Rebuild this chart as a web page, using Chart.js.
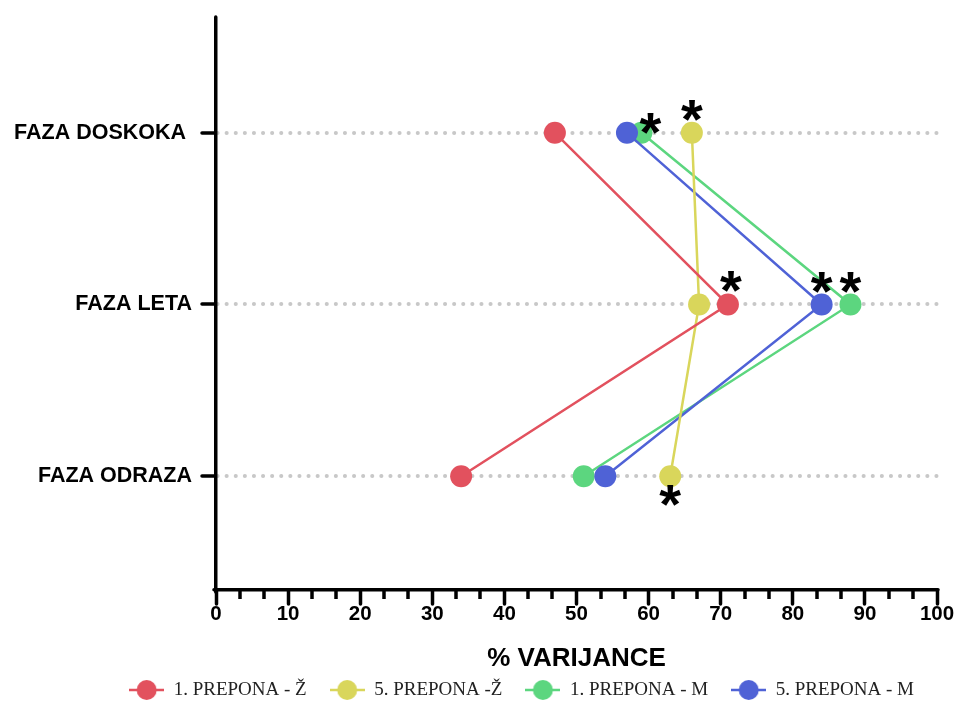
<!DOCTYPE html>
<html>
<head>
<meta charset="utf-8">
<script src="https://cdn.jsdelivr.net/npm/chart.js@4.4.1/dist/chart.umd.min.js"></script>
<style>
  html, body { margin: 0; padding: 0; background: #fff; }
</style>
</head>
<body>
<canvas id="chart" width="957" height="702"></canvas>
<script>
// phases, bottom to top on the y axis
const phases = ["FAZA ODRAZA", "FAZA LETA", "FAZA DOSKOKA "];
const seriesNames = ["1. PREPONA - Ž", "5. PREPONA -Ž", "1. PREPONA - M", "5. PREPONA - M"];
// % variance per phase (ODRAZA, LETA, DOSKOKA)
const prepona1Z = [34, 71, 47];
const prepona5Z = [63, 67, 66];
const prepona1M = [51, 88, 59];
const prepona5M = [54, 84, 57];
const xTickValues = [0, 10, 20, 30, 40, 50, 60, 70, 80, 90, 100];
// significant points: [series, phase, where the star goes]
const stars = [
    [2, 2, "right"],
    [1, 2, "above"],
    [0, 1, "aboveRight"],
    [3, 1, "above"],
    [2, 1, "above"],
    [1, 0, "below"],
];

const colors = ["#E2515E", "#D9D65B", "#5CD67F", "#4F62D6"];
const allSeries = [prepona1Z, prepona5Z, prepona1M, prepona5M];
const drawOrder = [0, 1, 3, 2]; // blue sits above green

const legendIcon = (color) => {
    const c = document.createElement("canvas");
    c.width = 35;
    c.height = 22;
    const g = c.getContext("2d");
    g.strokeStyle = color;
    g.lineWidth = 2.5;
    g.beginPath();
    g.moveTo(0, 11);
    g.lineTo(35, 11);
    g.stroke();
    g.fillStyle = color;
    g.beginPath();
    g.arc(17.5, 11, 10, 0, Math.PI * 2);
    g.fill();
    return c;
};

const starOffsets = { right: [9, -7], above: [0, -20], aboveRight: [3, -21], below: [0, 22] };
const STAR_SIZE = 56;

const extrasPlugin = {
    id: "extras",
    beforeDraw(chart) {
        chart.ctx.lineCap = "round";
    },
    afterDatasetsDraw(chart) {
        const ctx = chart.ctx;
        ctx.save();
        ctx.font = `bold ${STAR_SIZE}px "Liberation Sans"`;
        ctx.fillStyle = "#000";
        ctx.textAlign = "center";
        ctx.textBaseline = "alphabetic";
        stars.forEach(([s, p, where]) => {
            const pt = chart.getDatasetMeta(s).data[p];
            const [dx, dy] = starOffsets[where];
            ctx.fillText("*", pt.x + dx, pt.y + dy + STAR_SIZE * 0.45);
        });
        ctx.restore();
    },
    afterDraw(chart) {
        // minor ticks on the x axis, two between each labelled tick
        const ctx = chart.ctx;
        const xs = chart.scales.x;
        const bottom = chart.chartArea.bottom;
        ctx.save();
        ctx.strokeStyle = "#000";
        ctx.lineWidth = 3.5;
        ctx.lineCap = "butt";
        for (let i = 0; i < xTickValues.length - 1; i++) {
            const step = (xTickValues[i + 1] - xTickValues[i]) / 3;
            for (let k = 1; k < 3; k++) {
                const px = Math.round(xs.getPixelForValue(xTickValues[i] + k * step));
                ctx.beginPath();
                ctx.moveTo(px, bottom);
                ctx.lineTo(px, bottom + 9);
                ctx.stroke();
            }
        }
        ctx.restore();
    },
};

new Chart(document.getElementById("chart"), {
    type: "scatter",
    data: {
        datasets: allSeries.map((vals, i) => ({
            label: seriesNames[i],
            data: vals.map((v, p) => ({ x: v, y: p + 1 })),
            showLine: true,
            borderColor: colors[i],
            backgroundColor: colors[i],
            pointBackgroundColor: colors[i],
            borderWidth: 2.5,
            pointRadius: 11,
            pointHoverRadius: 11,
            pointBorderWidth: 0,
            order: drawOrder[i],
        })),
    },
    options: {
        responsive: false,
        animation: false,
        devicePixelRatio: 1,
        layout: { padding: { top: 19, right: 20, bottom: -7.5, left: 0 } },
        plugins: {
            tooltip: { enabled: false },
            legend: {
                position: "bottom",
                align: "end",
                labels: {
                    usePointStyle: true,
                    pointStyleWidth: 35,
                    padding: 23,
                    color: "#222",
                    font: { family: '"Liberation Serif"', size: 19 },
                    generateLabels: (chart) =>
                        chart.data.datasets.map((ds, i) => ({
                            text: ds.label,
                            pointStyle: legendIcon(ds.borderColor),
                            fillStyle: ds.backgroundColor,
                            strokeStyle: ds.borderColor,
                            lineWidth: 0,
                            hidden: false,
                            datasetIndex: i,
                            fontColor: "#222",
                        })),
                },
            },
        },
        scales: {
            x: {
                type: "linear",
                position: "bottom",
                min: 0,
                max: 100,
                afterBuildTicks: (s) => {
                    s.ticks = xTickValues.map((v) => ({ value: v }));
                },
                afterFit: (s) => {
                    s.height = 67.5;
                },
                ticks: {
                    color: "#000",
                    padding: -2,
                    font: { family: '"Liberation Sans"', size: 20.5, weight: "bold" },
                },
                grid: {
                    drawOnChartArea: false,
                    drawTicks: true,
                    tickLength: 14,
                    tickWidth: 3.5,
                    tickColor: "#000",
                },
                border: { color: "#000", width: 3.5 },
                title: {
                    display: true,
                    text: "% VARIJANCE",
                    color: "#000",
                    font: { family: '"Liberation Sans"', size: 26, weight: "bold" },
                    padding: { top: 0, bottom: -17 },
                },
            },
            y: {
                type: "linear",
                min: 0.337,
                max: 3.663,
                afterBuildTicks: (s) => {
                    s.ticks = phases.map((_, i) => ({ value: i + 1 }));
                },
                afterFit: (s) => {
                    s.width = 216;
                    s.paddingTop = 0;
                    s.paddingBottom = 0;
                },
                ticks: {
                    color: "#000",
                    padding: 10,
                    font: { family: '"Liberation Sans"', size: 21.5, weight: "bold" },
                    callback: (v) => phases[Math.round(v) - 1],
                },
                grid: {
                    color: "#c8c8c8",
                    lineWidth: 4,
                    tickBorderDash: [],
                    drawTicks: true,
                    tickLength: 14,
                    tickWidth: 3.5,
                    tickColor: "#000",
                },
                border: { color: "#000", width: 3.5, dash: [0.1, 9] },
            },
        },
    },
    plugins: [extrasPlugin],
});
</script>
</body>
</html>
